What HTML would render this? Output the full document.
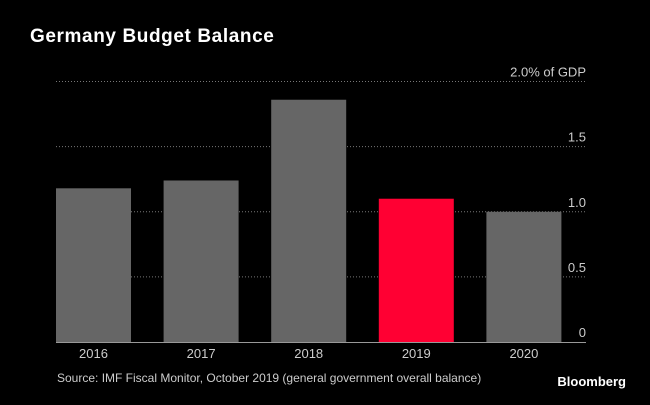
<!DOCTYPE html>
<html><head><meta charset="utf-8"><style>
body{margin:0;width:650px;height:400px;background:#000;overflow:hidden;font-family:"Liberation Sans",sans-serif}
</style></head><body>
<svg width="650" height="400" id="c">
<text x="30" y="42" fill="#fff" font-size="19" letter-spacing="0.6" font-weight="bold">Germany Budget Balance</text>
<text x="57" y="382" fill="#ccc" font-size="12">Source: IMF Fiscal Monitor, October 2019 (general government overall balance)</text>
<text x="626" y="386" fill="#fff" font-size="13" font-weight="bold" text-anchor="end">Bloomberg</text>
</svg>
<script>
const categories=["2016","2017","2018","2019","2020"];
const values=[1.18,1.24,1.86,1.10,1.0];
const ticks=[0,0.5,1.0,1.5,2.0];
const tickLabels=["0","0.5","1.0","1.5","2.0% of GDP"];
const svg=document.getElementById('c');const NS="http://www.w3.org/2000/svg";
const L=56,R=586,B=342,T=81.5,maxV=2;
const y=v=>B-(v/maxV)*(B-T);
const bw=75;
const x=i=>L+i*107.6;
function mk(t,a){const e=document.createElementNS(NS,t);for(const k in a)e.setAttribute(k,a[k]);svg.appendChild(e);return e;}
ticks.forEach((v,i)=>{
 if(v>0){const g=mk('line',{x1:L,x2:R,y1:y(v),y2:y(v),stroke:'#777','stroke-width':1,'stroke-dasharray':'1,2'});
 
 }
 const t=mk('text',{x:R,y:y(v)-5,fill:'#ccc','font-size':13,'text-anchor':'end'});t.textContent=tickLabels[i];
 
 
});
categories.forEach((c,i)=>{
 const r=mk('rect',{x:x(i),y:y(values[i]),width:bw,height:B-y(values[i]),fill:c==="2019"?'#ff0033':'#666'});
 
 
 const t=mk('text',{x:x(i)+bw/2,y:358,fill:'#ccc','font-size':13,'text-anchor':'middle'});t.textContent=c;
 
 
});
const base=mk('line',{x1:L,x2:R,y1:B+0.5,y2:B+0.5,stroke:'#999','stroke-width':1});


</script>
</body></html>
